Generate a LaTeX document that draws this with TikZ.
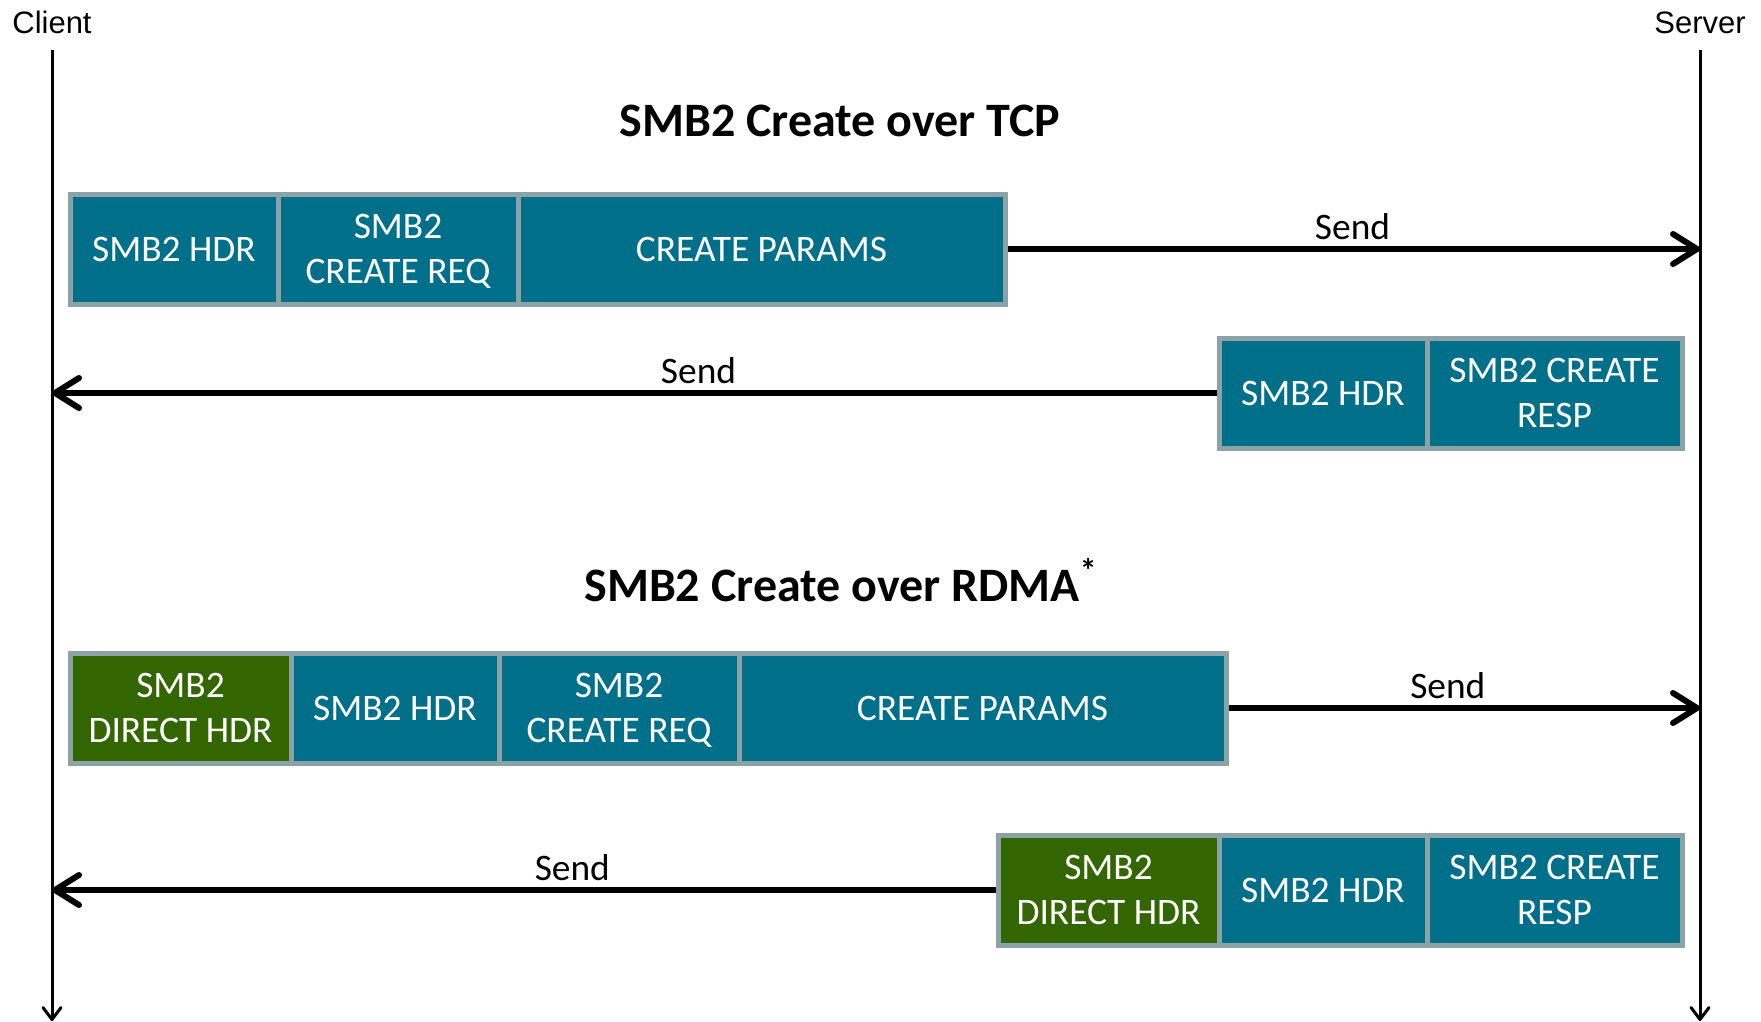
\documentclass[tikz,border=0pt]{standalone}
\usepackage{fontspec}
\setmainfont{Carlito}
\newfontfamily\actorfont{Liberation Sans}
\usetikzlibrary{positioning, arrows.meta}
\definecolor{smbteal}{RGB}{0,112,138}
\definecolor{directgreen}{RGB}{51,102,0}
\definecolor{cellrim}{RGB}{139,163,167}

\begin{document}
\begin{tikzpicture}[x=0.5pt, y=-0.5pt,
  cell/.style={draw=cellrim, line width=2.5pt, fill=smbteal, text=white, align=center,
    font=\fontsize{18.7}{22.5}\selectfont, minimum height=55pt, text depth=0pt,
    inner sep=0pt, outer sep=0pt},
  directcell/.style={cell, fill=directgreen, minimum width=110.5pt},
  hdrcell/.style={cell, minimum width=104pt},
  reqcell/.style={cell, minimum width=120pt},
  paramcell/.style={cell, minimum width=243.5pt},
  respcell/.style={cell, minimum width=127.5pt},
  sendarrow/.style={line width=3pt, -{Straight Barb[length=12pt,width=15pt,round]}, shorten <=1.25pt},
  lifeline/.style={line width=1.5pt, -{Straight Barb[length=6pt,width=9pt,round]}},
  sendlabel/.style={font=\fontsize{18.7}{22.5}\selectfont, inner sep=0pt},
  title/.style={font=\fontsize{24}{29}\selectfont\bfseries, anchor=base},
  actor/.style={font=\actorfont\fontsize{15.5}{18}\selectfont, anchor=base}]
  \useasboundingbox (0,0) rectangle (1761,1022);

  % lifelines
  \node[actor] (client) at (52,33.5) {Client};
  \node[actor] (server) at (1700,33.5) {Server};
  \coordinate (clienttop) at (52,50);
  \coordinate (clientend) at (52,1021);
  \coordinate (servertop) at (1700,50);
  \coordinate (serverend) at (1700,1021);
  \draw[lifeline] (clienttop) -- (clientend);
  \draw[lifeline] (servertop) -- (serverend);

  % over TCP
  \node[title] (tcptitle) at (840,137) {SMB2 Create over TCP};
  \node[hdrcell, anchor=west] (tcphdr) at (70,249) {SMB2 HDR};
  \node[reqcell, right=0pt of tcphdr] (tcpreq) {SMB2\\CREATE REQ};
  \node[paramcell, right=0pt of tcpreq] (tcpparams) {CREATE PARAMS};
  \draw[sendarrow] (tcpparams.east) -- (tcpparams.east -| servertop)
    node[sendlabel, pos=.5, above=3pt] {Send};

  \node[respcell, anchor=east] (tcpresp) at (1682,393) {SMB2 CREATE\\RESP};
  \node[hdrcell, left=0pt of tcpresp] (tcprhdr) {SMB2 HDR};
  \draw[sendarrow] (tcprhdr.west) -- (tcprhdr.west -| clienttop)
    node[sendlabel, pos=.446, above=3pt] {Send};

  % over RDMA
  \node[title] (rdmatitle) at (841,601) {SMB2 Create over RDMA\textsuperscript{*}};
  \node[directcell, anchor=west] (rdmadirect) at (70,708) {SMB2\\DIRECT HDR};
  \node[hdrcell, right=0pt of rdmadirect] (rdmahdr) {SMB2 HDR};
  \node[reqcell, right=0pt of rdmahdr] (rdmareq) {SMB2\\CREATE REQ};
  \node[paramcell, right=0pt of rdmareq] (rdmaparams) {CREATE PARAMS};
  \draw[sendarrow] (rdmaparams.east) -- (rdmaparams.east -| servertop)
    node[sendlabel, pos=.468, above=3pt] {Send};

  \node[respcell, anchor=east] (rdmaresp) at (1682,890) {SMB2 CREATE\\RESP};
  \node[hdrcell, left=0pt of rdmaresp] (rdmarhdr) {SMB2 HDR};
  \node[directcell, left=0pt of rdmarhdr] (rdmardirect) {SMB2\\DIRECT HDR};
  \draw[sendarrow] (rdmardirect.west) -- (rdmardirect.west -| clienttop)
    node[sendlabel, pos=.45, above=3pt] {Send};
\end{tikzpicture}
\end{document}
